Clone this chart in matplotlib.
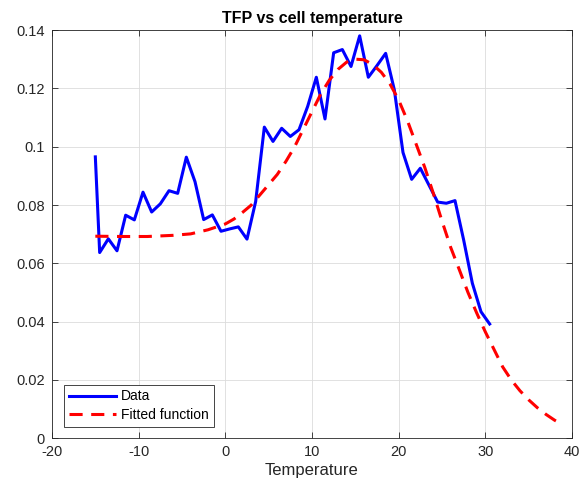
import matplotlib
matplotlib.use("Agg")
import matplotlib.pyplot as plt

plt.rcParams['font.family'] = ['Liberation Sans', 'DejaVu Sans']
plt.rcParams['axes.unicode_minus'] = False

data_x = [-15, -14.5, -13.5, -12.5, -11.5, -10.5, -9.5, -8.5, -7.5, -6.5, -5.5,
          -4.5, -3.5, -2.5, -1.5, -0.5, 0.5, 1.5, 2.5, 3.5, 4.5, 5.5, 6.5, 7.5,
          8.5, 9.5, 10.5, 11.5, 12.5, 13.5, 14.5, 15.5, 16.5, 17.5, 18.5, 19.5,
          20.5, 21.5, 22.5, 23.5, 24.5, 25.5, 26.5, 27.5, 28.5, 29.5, 30.5]
data_y = [0.0965, 0.0637, 0.0684, 0.0643, 0.0765, 0.0749, 0.0844, 0.0776, 0.0804,
          0.0849, 0.0840, 0.0964, 0.0880, 0.0750, 0.0766, 0.0710, 0.0718, 0.0725,
          0.0683, 0.0812, 0.1067, 0.1018, 0.1063, 0.1035, 0.1058, 0.1138, 0.1238,
          0.1095, 0.1322, 0.1333, 0.1275, 0.1380, 0.1238, 0.1278, 0.1320, 0.1195,
          0.0980, 0.0888, 0.0926, 0.0868, 0.0810, 0.0806, 0.0815, 0.0680, 0.0532,
          0.0434, 0.0392]

fit_x = [-15, -12, -9, -6, -4, -2, 0, 1, 2, 3, 4, 5, 6, 7, 8, 9, 10, 11, 12, 13,
         14, 15, 16, 17, 18, 19, 20, 21, 22, 23, 24, 25, 26, 27, 28, 29, 30, 31,
         32, 33, 34, 35, 36, 37, 38, 38.8]
fit_y = [0.0693, 0.0692, 0.0692, 0.0696, 0.0701, 0.0715, 0.0735, 0.0752, 0.0775,
         0.0800, 0.0835, 0.0870, 0.0905, 0.0950, 0.1000, 0.1060, 0.1120, 0.1180,
         0.1228, 0.1265, 0.1290, 0.1300, 0.1298, 0.1282, 0.1255, 0.1215, 0.1160,
         0.1090, 0.1010, 0.0930, 0.0840, 0.0745, 0.0655, 0.0578, 0.0500, 0.0430,
         0.0365, 0.0305, 0.0245, 0.0200, 0.0163, 0.0132, 0.0105, 0.0082, 0.0062,
         0.0049]

fig = plt.figure(figsize=(5.81, 4.88), dpi=100)
ax = fig.add_axes([0.0895, 0.1018, 0.895, 0.8367])

ax.plot(data_x, data_y, color='#0000ff', lw=2.2, label='Data')
ax.plot(fit_x, fit_y, color='#ff0000', lw=2.2, dashes=[4.3, 2.8], label='Fitted function')

ax.set_xlim(-20, 40)
ax.set_ylim(0, 0.14)
ax.set_xticks([-20, -10, 0, 10, 20, 30, 40])
ax.set_yticks([0, 0.02, 0.04, 0.06, 0.08, 0.1, 0.12, 0.14])
ax.set_yticklabels(['0', '0.02', '0.04', '0.06', '0.08', '0.1', '0.12', '0.14'])
ax.grid(True, color='#dcdcdc', lw=0.6)
ax.set_axisbelow(True)
ax.tick_params(direction='in', top=True, right=True, length=4, width=0.6,
               colors='#262626', labelsize=10.5, pad=5)
for s in ax.spines.values():
    s.set_color('#262626')
    s.set_linewidth(0.6)

ax.set_title('TFP vs cell temperature', fontsize=11.5, fontweight='bold', pad=5)
ax.set_xlabel('Temperature', fontsize=12, color='#262626', labelpad=3)

leg = ax.legend(loc='lower left', fontsize=10, handlelength=3.4, fancybox=False,
                framealpha=1, edgecolor='#262626', borderaxespad=0.85,
                borderpad=0.35, labelspacing=0.3, handletextpad=0.38)
leg.get_frame().set_linewidth(0.6)

fig.savefig('out.png', dpi=100)
